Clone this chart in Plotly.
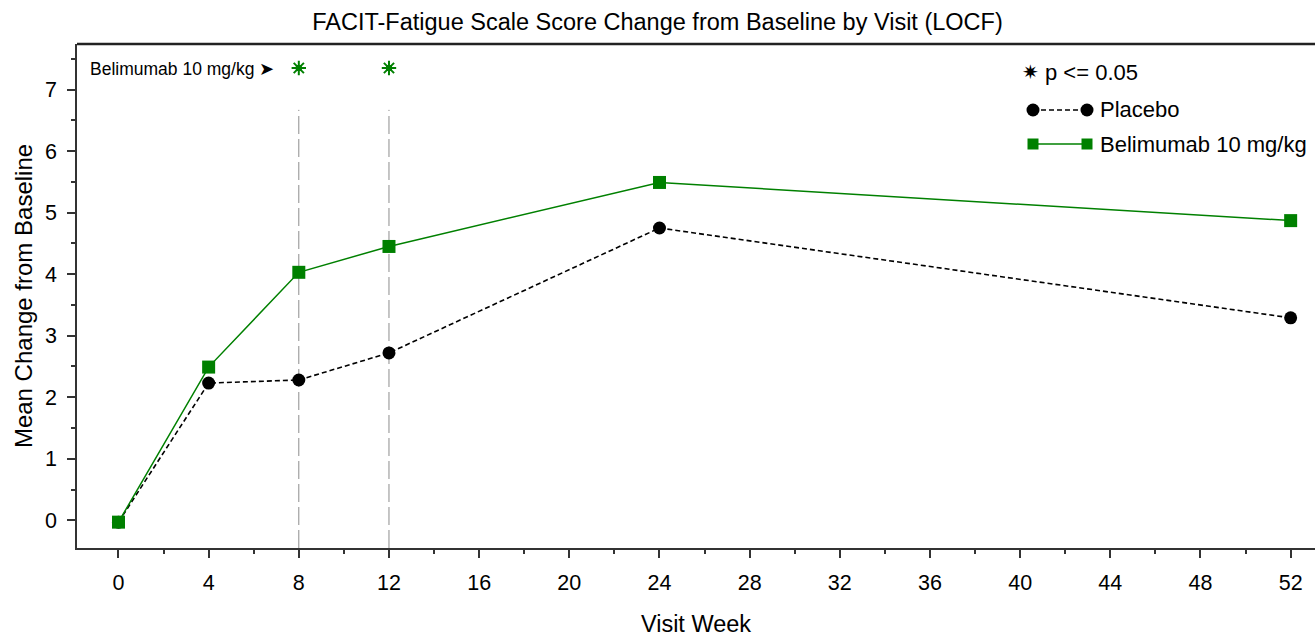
import plotly.graph_objects as go

weeks = [0, 4, 8, 12, 24, 52]
placebo = [-0.03, 2.23, 2.28, 2.72, 4.75, 3.29]
belimumab = [-0.03, 2.49, 4.03, 4.45, 5.49, 4.87]
sig_weeks = [8, 12]
sig_y = 7.35
x_ticks = list(range(0, 53, 4))
y_ticks = list(range(0, 8))

GREEN = "#008000"
FONT = "Liberation Sans, Arial, sans-serif"
W, H = 1315, 637
ML, MR, MT, MB = 77, 0, 44, 89
PW, PH = W - ML - MR, H - MT - MB

def px(x):
    return (x - ML) / PW

def py(y):
    return (H - MB - y) / PH

fig = go.Figure()

fig.add_trace(go.Scatter(
    x=weeks, y=placebo, mode="lines+markers", name="Placebo",
    line=dict(color="black", width=1.6, dash="5px,3px"),
    marker=dict(symbol="circle", size=13, color="black"),
    showlegend=False))
fig.add_trace(go.Scatter(
    x=weeks, y=belimumab, mode="lines+markers", name="Belimumab 10 mg/kg",
    line=dict(color=GREEN, width=1.5),
    marker=dict(symbol="square", size=13, color=GREEN),
    showlegend=False))
fig.add_trace(go.Scatter(
    x=sig_weeks, y=[sig_y] * len(sig_weeks), mode="markers",
    marker=dict(symbol="asterisk-open", size=12, color=GREEN, line=dict(color=GREEN, width=2)),
    showlegend=False, hoverinfo="skip"))
fig.add_trace(go.Scatter(
    x=sig_weeks, y=[sig_y] * len(sig_weeks), mode="markers",
    marker=dict(symbol="square", size=6, color=GREEN),
    showlegend=False, hoverinfo="skip"))

shapes = []
for wk in sig_weeks:
    shapes.append(dict(type="line", xref="x", yref="y", x0=wk, x1=wk, y0=-0.45, y1=6.67,
                       line=dict(color="#8c8c8c", width=1, dash="18px,5px"), layer="below"))
# top border
shapes.append(dict(type="line", xref="paper", yref="paper", x0=0, x1=1, y0=1, y1=1,
                   line=dict(color="#222", width=2.5)))

# custom legend
lx0, lx1 = 1033, 1087
ly_p, ly_b = 110, 144
shapes.append(dict(type="line", xref="paper", yref="paper", x0=px(lx0), x1=px(lx1),
                   y0=py(ly_p), y1=py(ly_p), line=dict(color="black", width=1.5, dash="5px,3px")))
shapes.append(dict(type="line", xref="paper", yref="paper", x0=px(lx0), x1=px(lx1),
                   y0=py(ly_b), y1=py(ly_b), line=dict(color=GREEN, width=1.5)))
for cx in (lx0, lx1):
    shapes.append(dict(type="circle", xref="paper", yref="paper", xsizemode="pixel", ysizemode="pixel",
                       xanchor=px(cx), yanchor=py(ly_p), x0=-6.5, x1=6.5, y0=-6.5, y1=6.5,
                       fillcolor="black", line=dict(width=0)))
    shapes.append(dict(type="rect", xref="paper", yref="paper", xsizemode="pixel", ysizemode="pixel",
                       xanchor=px(cx), yanchor=py(ly_b), x0=-5.5, x1=5.5, y0=-5.5, y1=5.5,
                       fillcolor=GREEN, line=dict(width=0)))

annotations = [
    dict(text="Belimumab 10 mg/kg \u27a4", xref="paper", yref="paper", x=px(88), y=py(69),
         xanchor="left", yanchor="middle", showarrow=False, font=dict(family=FONT, size=17.5, color="black")),
    dict(text="\u2737", xref="paper", yref="paper", x=px(1030), y=py(72),
         xanchor="center", yanchor="middle", showarrow=False, font=dict(family="DejaVu Sans", size=20, color="black")),
    dict(text="p <= 0.05", xref="paper", yref="paper", x=px(1043), y=py(72),
         xanchor="left", yanchor="middle", showarrow=False, font=dict(family=FONT, size=22, color="black")),
    dict(text="Placebo", xref="paper", yref="paper", x=px(1098), y=py(ly_p),
         xanchor="left", yanchor="middle", showarrow=False, font=dict(family=FONT, size=22, color="black")),
    dict(text="Belimumab 10 mg/kg", xref="paper", yref="paper", x=px(1098), y=py(ly_b),
         xanchor="left", yanchor="middle", showarrow=False, font=dict(family=FONT, size=22, color="black")),
]

fig.update_layout(
    width=W, height=H, margin=dict(l=ML, r=MR, t=MT, b=MB),
    paper_bgcolor="white", plot_bgcolor="white",
    font=dict(family=FONT, color="black"),
    title=dict(text="FACIT-Fatigue Scale Score Change from Baseline by Visit (LOCF)",
               x=0.5, xref="container", xanchor="center", y=1 - 22 / H, yref="container", yanchor="middle",
               font=dict(family=FONT, size=23.5, color="black")),
    shapes=shapes, annotations=annotations,
)
fig.update_xaxes(range=[-1.84, 53.08], tickmode="array", tickvals=x_ticks, ticktext=[str(t) for t in x_ticks],
                 ticks="outside", ticklen=8, tickwidth=1.5, tickcolor="#333", ticklabelstandoff=6,
                 showline=True, linecolor="#333", linewidth=1.5, showgrid=False, zeroline=False,
                 tickfont=dict(family=FONT, size=21.5, color="black"),
                 minor=dict(tickmode="array", tickvals=[t + 2 for t in x_ticks[:-1]], ticks="outside",
                            ticklen=4, tickwidth=1.5, tickcolor="#333", showgrid=False),
                 title=dict(text="Visit Week", font=dict(family=FONT, size=23.5, color="black"), standoff=24))
fig.update_yaxes(range=[-0.45, 7.74], tickmode="array", tickvals=y_ticks, ticktext=[str(t) for t in y_ticks],
                 ticks="outside", ticklen=8, tickwidth=1.5, tickcolor="#333", ticklabelstandoff=6,
                 showline=True, linecolor="#333", linewidth=1.5, showgrid=False, zeroline=False,
                 tickfont=dict(family=FONT, size=21.5, color="black"),
                 minor=dict(tickmode="array", tickvals=[t + 0.5 for t in y_ticks], ticks="outside",
                            ticklen=4, tickwidth=1.5, tickcolor="#333", showgrid=False),
                 title=dict(text="Mean Change from Baseline", font=dict(family=FONT, size=24, color="black"), standoff=6))

fig.write_html("out.html")
